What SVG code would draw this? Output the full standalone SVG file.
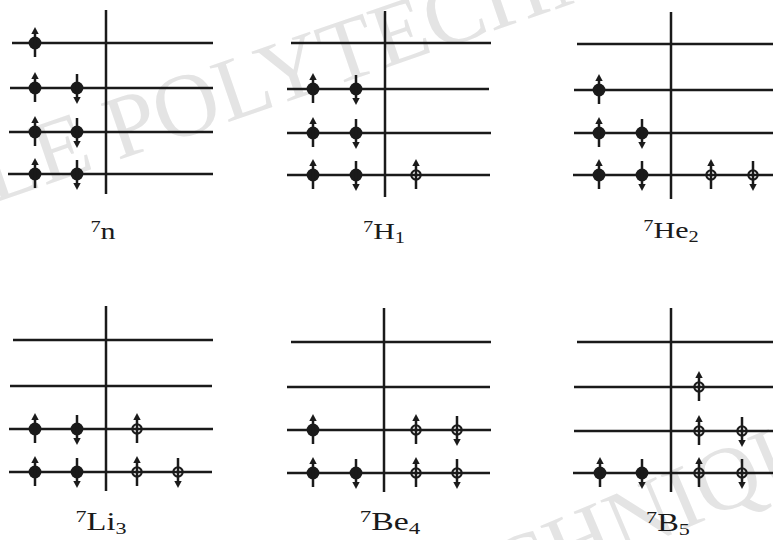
<svg xmlns="http://www.w3.org/2000/svg" xmlns:xlink="http://www.w3.org/1999/xlink" width="773" height="540" viewBox="0 0 773 540">
<style>
.wm{font-family:"Liberation Serif","Times New Roman",serif;font-size:90px;fill:#e4e4e4}
.lv{stroke:#1a1a1a;stroke-width:2.4;fill:none}
.ax{stroke:#1a1a1a;stroke-width:2.5;fill:none}
.lbl{font-family:"Liberation Serif","Times New Roman",serif;fill:#1a1a1a;text-anchor:middle}
.top{font-size:24px}
.bot{font-size:26px}
.ss{font-size:0.68em}
</style>
<defs>
<g id="fu"><circle r="6.4" fill="#1a1a1a"/><line x1="0" y1="14" x2="0" y2="-10" stroke="#1a1a1a" stroke-width="2.5"/><path d="M0,-16 L-3.7,-9 L3.7,-9 Z" fill="#1a1a1a"/></g>
<g id="fd"><circle r="6.4" fill="#1a1a1a"/><line x1="0" y1="-14" x2="0" y2="10" stroke="#1a1a1a" stroke-width="2.5"/><path d="M0,16 L-3.7,9 L3.7,9 Z" fill="#1a1a1a"/></g>
<g id="ou"><circle r="4.7" fill="none" stroke="#1a1a1a" stroke-width="2.1"/><line x1="0" y1="14" x2="0" y2="-10" stroke="#1a1a1a" stroke-width="2.5"/><path d="M0,-16 L-3.7,-9 L3.7,-9 Z" fill="#1a1a1a"/></g>
<g id="od"><circle r="4.7" fill="none" stroke="#1a1a1a" stroke-width="2.1"/><line x1="0" y1="-14" x2="0" y2="10" stroke="#1a1a1a" stroke-width="2.5"/><path d="M0,16 L-3.7,9 L3.7,9 Z" fill="#1a1a1a"/></g>
</defs>
<rect width="773" height="540" fill="#ffffff"/>
<g id="watermark">
<text class="wm" transform="translate(-178,262) rotate(-19)">ÉCOLE POLYTECHNIQUE</text>
<text class="wm" transform="translate(-91,858) rotate(-23)">ÉCOLE POLYTECHNIQUE</text>
</g>
<g id="connectors"></g>
<g id="panel-7n">
<line class="ax" x1="106" y1="10" x2="106" y2="194"/>
<line class="lv" x1="12" y1="43" x2="213" y2="43"/>
<line class="lv" x1="10" y1="88" x2="213" y2="88"/>
<line class="lv" x1="9" y1="132" x2="213" y2="132"/>
<line class="lv" x1="8" y1="174" x2="213" y2="174"/>
<use xlink:href="#fu" x="35" y="43"/>
<use xlink:href="#fu" x="35" y="88"/><use xlink:href="#fd" x="77" y="88"/>
<use xlink:href="#fu" x="35" y="132"/><use xlink:href="#fd" x="77" y="132"/>
<use xlink:href="#fu" x="35" y="174"/><use xlink:href="#fd" x="77" y="174"/>
<text class="lbl top" transform="translate(103,239) scale(1.25,1)"><tspan class="ss" dy="-7">7</tspan><tspan dy="7">n</tspan></text>
</g>
<g id="panel-7H1">
<line class="ax" x1="385" y1="11" x2="385" y2="197"/>
<line class="lv" x1="291" y1="43" x2="491" y2="43"/>
<line class="lv" x1="287" y1="89" x2="489" y2="89"/>
<line class="lv" x1="287" y1="133" x2="491" y2="133"/>
<line class="lv" x1="287" y1="175" x2="490" y2="175"/>
<use xlink:href="#fu" x="313" y="89"/><use xlink:href="#fd" x="356" y="89"/>
<use xlink:href="#fu" x="313" y="133"/><use xlink:href="#fd" x="356" y="133"/>
<use xlink:href="#fu" x="313" y="175"/><use xlink:href="#fd" x="356" y="175"/><use xlink:href="#ou" x="416" y="175"/>
<text class="lbl top" transform="translate(384,239) scale(1.25,1)"><tspan class="ss" dy="-7">7</tspan><tspan dy="7">H</tspan><tspan class="ss" dy="4">1</tspan></text>
</g>
<g id="panel-7He2">
<line class="ax" x1="671" y1="12" x2="671" y2="199"/>
<line class="lv" x1="577" y1="44" x2="773" y2="44"/>
<line class="lv" x1="574" y1="90" x2="773" y2="90"/>
<line class="lv" x1="574" y1="133" x2="773" y2="133"/>
<line class="lv" x1="573" y1="175" x2="773" y2="175"/>
<use xlink:href="#fu" x="599" y="90"/>
<use xlink:href="#fu" x="599" y="133"/><use xlink:href="#fd" x="642" y="133"/>
<use xlink:href="#fu" x="599" y="175"/><use xlink:href="#fd" x="642" y="175"/><use xlink:href="#ou" x="711" y="175"/><use xlink:href="#od" x="753" y="175"/>
<text class="lbl top" transform="translate(671,238) scale(1.25,1)"><tspan class="ss" dy="-7">7</tspan><tspan dy="7">He</tspan><tspan class="ss" dy="4">2</tspan></text>
</g>
<g id="panel-7Li3">
<line class="ax" x1="106" y1="306" x2="106" y2="491"/>
<line class="lv" x1="13" y1="340" x2="213" y2="340"/>
<line class="lv" x1="10" y1="386" x2="212" y2="386"/>
<line class="lv" x1="9" y1="429" x2="213" y2="429"/>
<line class="lv" x1="9" y1="472" x2="212" y2="472"/>
<use xlink:href="#fu" x="35" y="429"/><use xlink:href="#fd" x="77" y="429"/><use xlink:href="#ou" x="137" y="429"/>
<use xlink:href="#fu" x="35" y="472"/><use xlink:href="#fd" x="77" y="472"/><use xlink:href="#ou" x="137" y="472"/><use xlink:href="#od" x="178" y="472"/>
<text class="lbl bot" transform="translate(101,530) scale(1.25,1)"><tspan class="ss" dy="-8">7</tspan><tspan dy="8">Li</tspan><tspan class="ss" dy="4">3</tspan></text>
</g>
<g id="panel-7Be4">
<line class="ax" x1="384" y1="308" x2="384" y2="492"/>
<line class="lv" x1="291" y1="342" x2="491" y2="342"/>
<line class="lv" x1="287" y1="387" x2="490" y2="387"/>
<line class="lv" x1="287" y1="430" x2="491" y2="430"/>
<line class="lv" x1="287" y1="473" x2="490" y2="473"/>
<use xlink:href="#fu" x="313" y="430"/><use xlink:href="#ou" x="416" y="430"/><use xlink:href="#od" x="457" y="430"/>
<use xlink:href="#fu" x="313" y="473"/><use xlink:href="#fd" x="356" y="473"/><use xlink:href="#ou" x="416" y="473"/><use xlink:href="#od" x="457" y="473"/>
<text class="lbl bot" transform="translate(390,530) scale(1.3,1)"><tspan class="ss" dy="-8">7</tspan><tspan dy="8">Be</tspan><tspan class="ss" dy="4">4</tspan></text>
</g>
<g id="panel-7B5">
<line class="ax" x1="671" y1="308" x2="671" y2="492"/>
<line class="lv" x1="577" y1="342" x2="773" y2="342"/>
<line class="lv" x1="574" y1="387" x2="773" y2="387"/>
<line class="lv" x1="574" y1="431" x2="773" y2="431"/>
<line class="lv" x1="573" y1="473" x2="773" y2="473"/>
<use xlink:href="#ou" x="699" y="387"/>
<use xlink:href="#ou" x="699" y="431"/><use xlink:href="#od" x="742" y="431"/>
<use xlink:href="#fu" x="600" y="473"/><use xlink:href="#fd" x="642" y="473"/><use xlink:href="#ou" x="699" y="473"/><use xlink:href="#od" x="742" y="473"/>
<text class="lbl bot" transform="translate(668,531) scale(1.25,1)"><tspan class="ss" dy="-8">7</tspan><tspan dy="8">B</tspan><tspan class="ss" dy="4">5</tspan></text>
</g>
</svg>
